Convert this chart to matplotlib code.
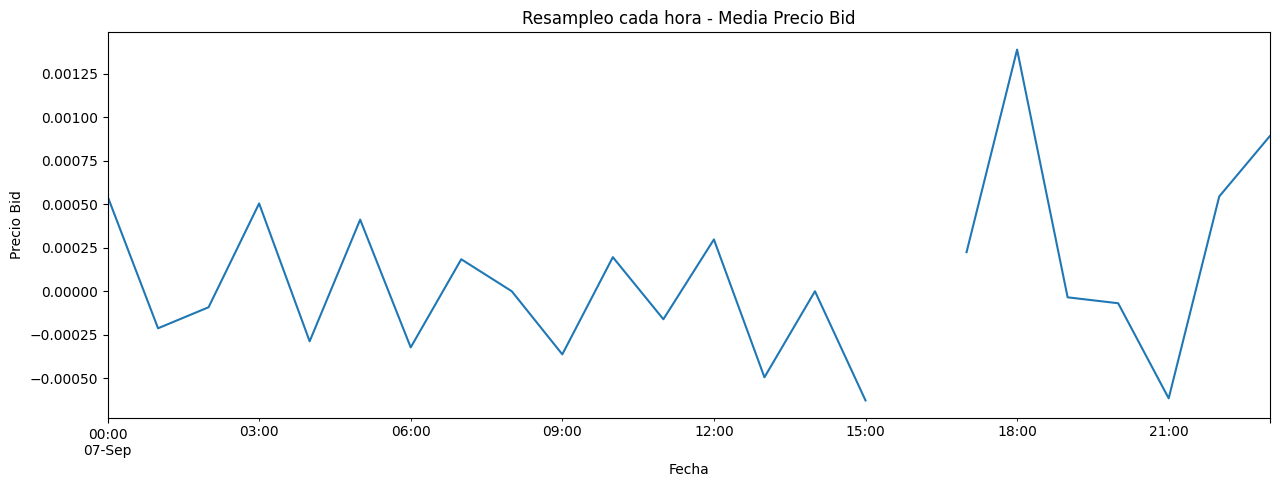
import numpy as np
import pandas as pd
import matplotlib
matplotlib.use("Agg")
import matplotlib.pyplot as plt

# Media horaria del precio bid (hora 16:00 sin datos)
horas = pd.date_range("2023-09-07 00:00", periods=24, freq="h")
precio_bid = [0.000547, -0.000213, -0.000092, 0.000505, -0.000288, 0.000412,
              -0.000323, 0.000184, 0.0, -0.000363, 0.000196, -0.000161,
              0.000298, -0.000495, 0.0, -0.000628, np.nan, 0.000225,
              0.001390, -0.000035, -0.000069, -0.000616, 0.000545, 0.000892]

serie = pd.Series(precio_bid, index=horas)

fig, ax = plt.subplots(figsize=(12.8, 4.86), dpi=100)
serie.plot(ax=ax, color="#1f77b4")
ax.set_title("Resampleo cada hora - Media Precio Bid")
ax.set_xlabel("Fecha")
ax.set_ylabel("Precio Bid")
fig.subplots_adjust(left=0.084, right=0.992, top=0.934, bottom=0.140)
fig.savefig("out.png", dpi=100)
